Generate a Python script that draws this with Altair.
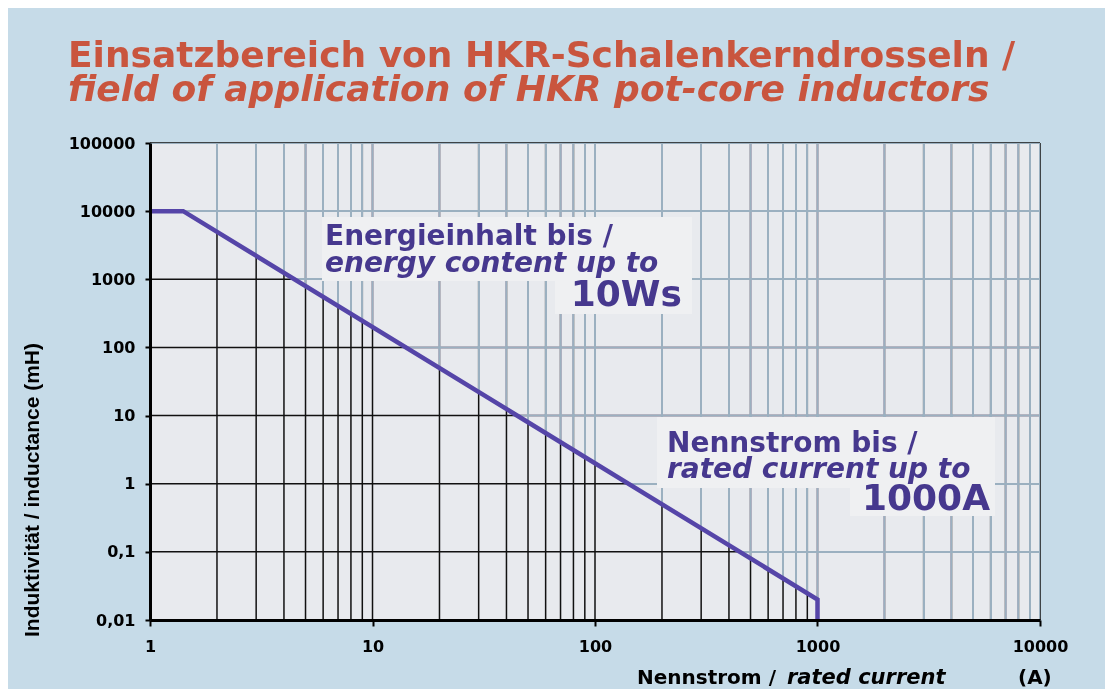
import altair as alt
import pandas as pd

# ---------------- data ----------------
title_lines = [
    "Einsatzbereich von HKR-Schalenkerndrosseln /",
    "field of application of HKR pot-core inductors",
]
y_axis_title = "Induktivität / inductance (mH)"
x_axis_title_parts = ["Nennstrom /", "rated current", "(A)"]

x_decades = [1, 10, 100, 1000, 10000]
y_decades = [0.01, 0.1, 1, 10, 100, 1000, 10000, 100000]
grid_x = [2, 3, 4, 5, 6, 7, 8, 9,
          10, 20, 30, 40, 50, 60, 70, 80, 90,
          100, 200, 300, 400, 500, 600, 700, 800, 900,
          1000, 2000, 3000, 4000, 5000, 6000, 7000, 8000, 9000, 10000]
grid_y = [0.1, 1, 10, 100, 1000, 10000, 100000]

# application limit curve (rated current A, inductance mH)
curve_current = [1, 1.41, 1000, 1000]
curve_inductance = [10000, 10000, 0.02, 0.01]

note1 = ["Energieinhalt bis /", "energy content up to", "10Ws"]
note2 = ["Nennstrom bis /", "rated current up to", "1000A"]

# ---------------- styling ----------------
W, H = 890, 477
PAGE_BG = "#c6dbe8"
PLOT_BG = "#e8eaee"
GRID_GRAY = "#9bb0c0"
CURVE = "#5545a8"
NOTE = "#46388e"
TITLE_RED = "#c9553e"
BOX = "#eff0f2"
FONT = "DejaVu Sans"

xs = alt.Scale(type="log", domain=[1, 10000], nice=False)
ys = alt.Scale(type="log", domain=[0.01, 100000], nice=False)

xaxis = alt.Axis(values=x_decades, format="d", grid=False, title=None,
                 domainColor="black", domainWidth=3, tickColor="black",
                 tickWidth=2, tickSize=6, labelFont=FONT, labelFontWeight="bold",
                 labelFontSize=16, labelColor="black", labelPadding=12,
                 labelFlush=False, zindex=1)
yaxis = alt.Axis(values=y_decades, format="~g", grid=False, title=None,
                 labelExpr="replace(datum.label, '.', ',')",
                 domainColor="black", domainWidth=3, tickColor="black",
                 tickWidth=2, tickSize=5, labelFont=FONT, labelFontWeight="bold",
                 labelFontSize=16, labelColor="black", labelPadding=10,
                 labelFlush=False, zindex=1)

# grid lines (drawn black; above the curve they are turned gray by blending)
vgrid = alt.Chart(pd.DataFrame({"I": grid_x})).mark_rule(
    color="#111111", strokeWidth=1.5
).encode(x=alt.X("I:Q", scale=xs, axis=xaxis))

hgrid = alt.Chart(pd.DataFrame({"L": grid_y})).mark_rule(
    color="#111111", strokeWidth=1.5
).encode(y=alt.Y("L:Q", scale=ys, axis=yaxis))

# region above the limit curve: grid becomes gray
area_x = curve_current + [x_decades[-1]]
area_y = curve_inductance + [y_decades[0]]
area_df = pd.DataFrame({
    "I": area_x,
    "L": area_y,
    "top": [y_decades[-1]] * len(area_x),
})
above = alt.Chart(area_df).mark_area(
    color=GRID_GRAY, blend="lighten", opacity=1, interpolate="linear"
).encode(
    x=alt.X("I:Q", scale=xs, axis=xaxis),
    y=alt.Y("L:Q", scale=ys, axis=yaxis, stack=None),
    y2="top:Q",
)

curve_df = pd.DataFrame({"I": curve_current, "L": curve_inductance})
curve = alt.Chart(curve_df).mark_line(
    color=CURVE, strokeWidth=4.5, strokeJoin="miter", strokeCap="butt"
).encode(
    x=alt.X("I:Q", scale=xs, axis=xaxis),
    y=alt.Y("L:Q", scale=ys, axis=yaxis),
)

# annotation boxes (pixel positions in the plot area)
box_df = pd.DataFrame({
    "x": [172, 405, 507, 700],
    "x2": [542, 542, 845, 845],
    "y": [74, 137, 274, 344],
    "y2": [138, 171, 345, 373],
})
boxes = alt.Chart(box_df).mark_rect(color=BOX).encode(
    x=alt.X("x:Q", scale=None), x2="x2:Q",
    y=alt.Y("y:Q", scale=None), y2="y2:Q",
)


def txt(text, x, y, size, style="normal", align="left", color="black",
        font=FONT, angle=0, baseline="alphabetic"):
    return alt.Chart(pd.DataFrame({"t": [text]})).mark_text(
        font=font, fontSize=size, fontWeight="bold", fontStyle=style,
        align=align, baseline=baseline, color=color, angle=angle,
    ).encode(text="t:N", x=alt.value(x), y=alt.value(y))


texts = [
    txt(title_lines[0], -82, -76, 36, color=TITLE_RED),
    txt(title_lines[1], -82, -42, 36, style="italic", color=TITLE_RED),
    txt(note1[0], 175, 102, 28, color=NOTE),
    txt(note1[1], 175, 129, 28, style="italic", color=NOTE),
    txt(note1[2], 532, 163, 36, align="right", color=NOTE),
    txt(note2[0], 517, 309, 28, color=NOTE),
    txt(note2[1], 517, 335, 28, style="italic", color=NOTE),
    txt(note2[2], 840, 367, 36, align="right", color=NOTE),
    txt(x_axis_title_parts[0], 487, 541, 20),
    txt(x_axis_title_parts[1], 637, 541, 21, style="italic"),
    txt(x_axis_title_parts[2], 868, 541, 20),
    txt(y_axis_title, -117, 347, 21, font="Liberation Sans", angle=270,
        align="center", baseline="middle"),
]

chart = alt.layer(vgrid, hgrid, above, boxes, curve, *texts).properties(
    width=W, height=H,
    autosize=alt.AutoSizeParams(type="none"),
    padding={"left": 142, "top": 135, "right": 65, "bottom": 69},
    background=PAGE_BG,
).configure_view(fill=PLOT_BG, stroke=None)

chart.save("out.html", embed_options={"renderer": "svg", "actions": False})
